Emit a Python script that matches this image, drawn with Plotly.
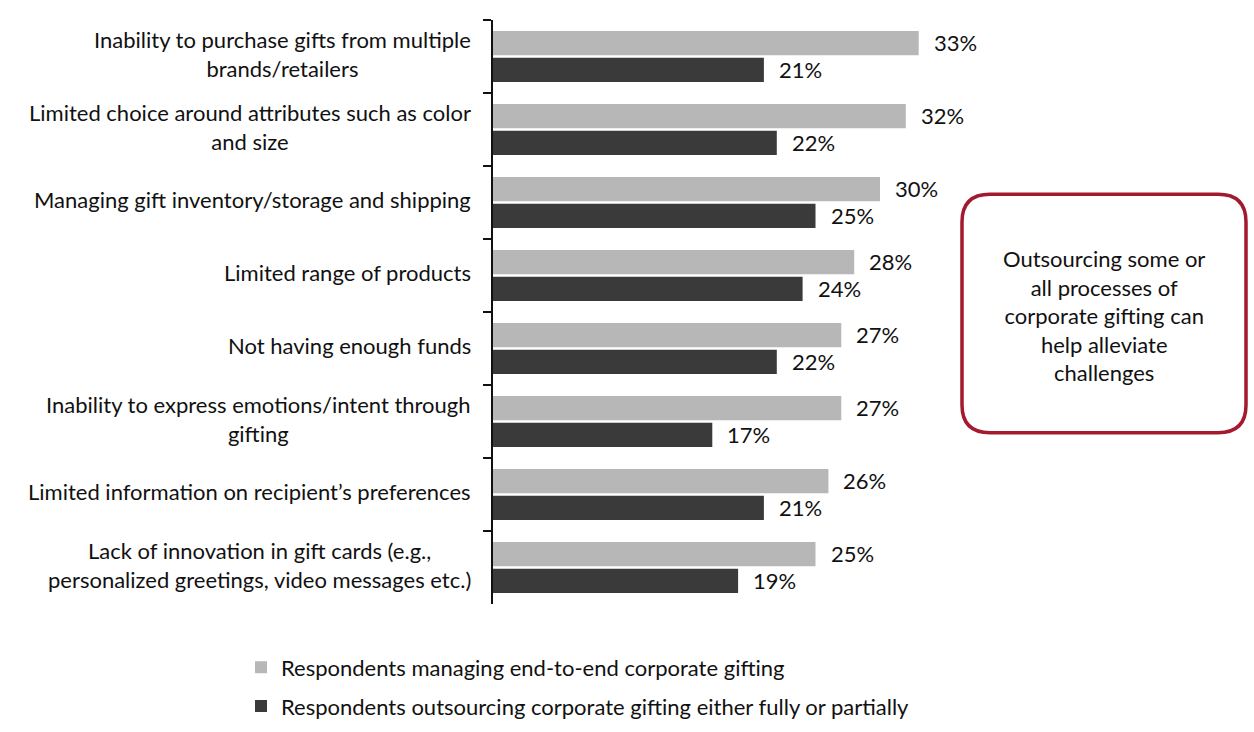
import plotly.graph_objects as go

categories = [
    "Inability to purchase gifts from multiple<br>brands/retailers",
    "Limited choice around attributes such as color<br>and size",
    "Managing gift inventory/storage and shipping",
    "Limited range of products",
    "Not having enough funds",
    "Inability to express emotions/intent through<br>gifting",
    "Limited information on recipient’s preferences",
    "Lack of innovation in gift cards (e.g.,<br>personalized greetings, video messages etc.)",
]
end_to_end = [33, 32, 30, 28, 27, 27, 26, 25]
outsourcing = [21, 22, 25, 24, 22, 17, 21, 19]
series_names = [
    "Respondents managing end-to-end corporate gifting",
    "Respondents outsourcing corporate gifting either fully or partially",
]
callout_text = "Outsourcing some or<br>all processes of<br>corporate gifting can<br>help alleviate<br>challenges"

LIGHT = "#b7b7b7"
DARK = "#3a3a3a"
RED = "#a31a2e"
FONT = "Lato"
FS = 22

W, H = 1254, 732
ML, MR, MT, MB = 493, 4, 20, 122
PW, PH = W - ML - MR, H - MT - MB
PX_PER_PCT = 12.9

fig = go.Figure()
fig.add_trace(go.Bar(y=categories, x=end_to_end, orientation="h", name=series_names[0],
                     legendgroup="a", marker=dict(color=LIGHT, line=dict(width=0))))
fig.add_trace(go.Bar(y=categories, x=outsourcing, orientation="h", name=series_names[1],
                     legendgroup="b", marker=dict(color=DARK, line=dict(width=0))))

annotations = []
for c in categories:
    annotations.append(dict(x=0, y=c, xref="x", yref="y", text=c, showarrow=False,
                            xanchor="right", yanchor="middle", align="center", xshift=-20,
                            yshift=3, font=dict(family=FONT, size=FS, color="#111")))
for c, v in zip(categories, end_to_end):
    annotations.append(dict(x=v, y=c, xref="x", yref="y", text=f"{v}%", showarrow=False,
                            xanchor="left", yanchor="middle", xshift=13, yshift=14,
                            font=dict(family=FONT, size=FS, color="#111")))
for c, v in zip(categories, outsourcing):
    annotations.append(dict(x=v, y=c, xref="x", yref="y", text=f"{v}%", showarrow=False,
                            xanchor="left", yanchor="middle", xshift=13, yshift=-13,
                            font=dict(family=FONT, size=FS, color="#111")))

def px_x(p):
    return (p - ML) / PW

def px_y(p):
    return 1 - (p - MT) / PH

x0, x1, y0, y1, r = 962, 1246, 196, 437, 28
path = (f"M {px_x(x0 + r)},{px_y(y0)} L {px_x(x1 - r)},{px_y(y0)} "
        f"Q {px_x(x1)},{px_y(y0)} {px_x(x1)},{px_y(y0 + r)} "
        f"L {px_x(x1)},{px_y(y1 - r)} Q {px_x(x1)},{px_y(y1)} {px_x(x1 - r)},{px_y(y1)} "
        f"L {px_x(x0 + r)},{px_y(y1)} Q {px_x(x0)},{px_y(y1)} {px_x(x0)},{px_y(y1 - r)} "
        f"L {px_x(x0)},{px_y(y0 + r)} Q {px_x(x0)},{px_y(y0)} {px_x(x0 + r)},{px_y(y0)} Z")
shapes = [dict(type="path", xref="paper", yref="paper", path=path,
               line=dict(color=RED, width=3.5), fillcolor="white", layer="above")]
annotations.append(dict(x=px_x((x0 + x1) / 2), y=px_y(319), xref="paper", yref="paper",
                        text=callout_text, showarrow=False, xanchor="center", yanchor="middle",
                        align="center", font=dict(family=FONT, size=FS, color="#111")))

fig.update_layout(
    width=W, height=H, autosize=False,
    margin=dict(l=ML, r=MR, t=MT, b=MB),
    plot_bgcolor="white", paper_bgcolor="white",
    barmode="group", bargap=0.265, bargroupgap=0.1,
    font=dict(family=FONT, size=FS, color="#111"),
    xaxis=dict(visible=False, range=[0, PW / PX_PER_PCT], showgrid=False, zeroline=False),
    yaxis=dict(autorange="reversed", showticklabels=False, showgrid=False, zeroline=False,
               showline=True, linecolor="#111", linewidth=2, ticks="outside", ticklen=8,
               tickwidth=2, tickcolor="#111", tickson="boundaries", fixedrange=True),
    legend=dict(x=px_x(241), xanchor="left", y=px_y(653), yanchor="top",
                font=dict(family=FONT, size=FS, color="#111"), tracegroupgap=7,
                traceorder="grouped", bgcolor="rgba(0,0,0,0)"),
    annotations=annotations, shapes=shapes,
)
fig.write_html("out.html")
